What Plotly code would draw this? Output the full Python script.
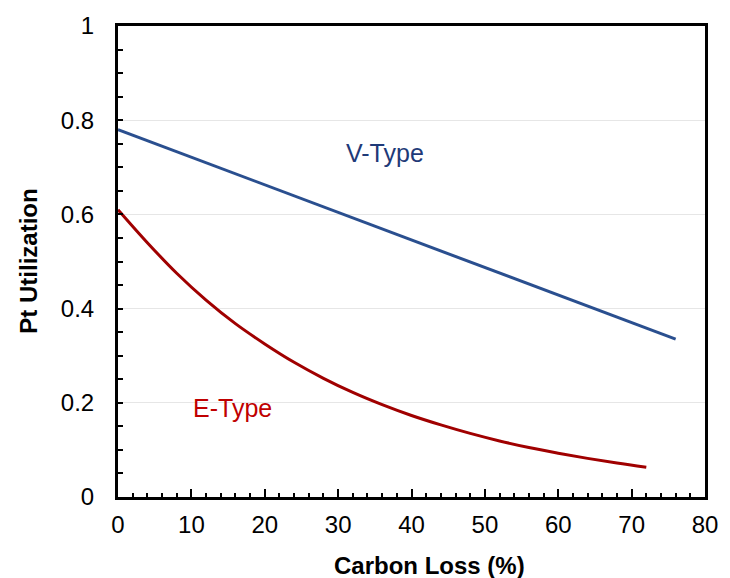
import plotly.graph_objects as go

# Data
v_x = [0, 76]
v_y = [0.78, 0.335]

e_x = [0, 4, 8, 12, 16, 20, 24, 28, 32, 36, 40, 44, 48, 52, 56, 60, 64, 68, 72]
e_y = [0.61, 0.54, 0.475, 0.418, 0.368, 0.325, 0.286, 0.252, 0.222, 0.196,
       0.173, 0.153, 0.135, 0.119, 0.105, 0.093, 0.082, 0.072, 0.063]

x_ticks = [0, 10, 20, 30, 40, 50, 60, 70, 80]
y_ticks = [0, 0.2, 0.4, 0.6, 0.8, 1]
y_tick_text = ["0", "0.2", "0.4", "0.6", "0.8", "1"]

labels = [("V-Type", 36.4, 0.73, "#1F3A78"), ("E-Type", 15.6, 0.188, "#C00000")]

x_title = "<b>Carbon Loss (%)</b>"
y_title = "<b>Pt Utilization</b>"

font = "Liberation Sans, Arial, sans-serif"

fig = go.Figure()
fig.add_trace(go.Scatter(x=v_x, y=v_y, mode="lines",
                         line=dict(color="#2A4F8F", width=3), showlegend=False))
fig.add_trace(go.Scatter(x=e_x, y=e_y, mode="lines",
                         line=dict(color="#A00000", width=3, shape="spline"),
                         showlegend=False))

for text, x, y, c in labels:
    fig.add_annotation(x=x, y=y, text=text, showarrow=False,
                       font=dict(family=font, size=25, color=c))

fig.add_annotation(xref="paper", yref="paper", x=0.53, y=-0.145, text=x_title,
                   showarrow=False, xanchor="center", yanchor="middle",
                   font=dict(family=font, size=24, color="black"))
fig.add_annotation(xref="paper", yref="paper", x=-0.153, y=0.5, text=y_title,
                   showarrow=False, xanchor="center", yanchor="middle", textangle=-90,
                   font=dict(family=font, size=24, color="black"))

fig.update_layout(
    width=730, height=578,
    margin=dict(l=118, r=16, t=19, b=81),
    paper_bgcolor="white", plot_bgcolor="white",
    font=dict(family=font, color="black"),
    xaxis=dict(
        range=[0, 80], tickvals=x_ticks, ticks="inside", ticklen=8, tickwidth=2,
        tickcolor="black", showline=True, linewidth=3, linecolor="black",
        mirror=True, showgrid=False, zeroline=False, ticklabelstandoff=4,
        tickfont=dict(size=24, family=font, color="black"),
        minor=dict(ticks="inside", dtick=2, ticklen=4, tickwidth=2, tickcolor="black", showgrid=False),
    ),
    yaxis=dict(
        range=[0, 1], tickvals=y_ticks, ticktext=y_tick_text, ticks="inside", ticklen=5,
        tickwidth=2, tickcolor="black", showline=True, linewidth=3, linecolor="black",
        mirror=True, showgrid=True, gridcolor="#E6E6E6", gridwidth=1, zeroline=False,
        ticklabelstandoff=16,
        tickfont=dict(size=24, family=font, color="black"),
        minor=dict(ticks="inside", dtick=0.05, ticklen=5, tickwidth=2, tickcolor="black", showgrid=False),
    ),
)

fig.write_html("out.html")
